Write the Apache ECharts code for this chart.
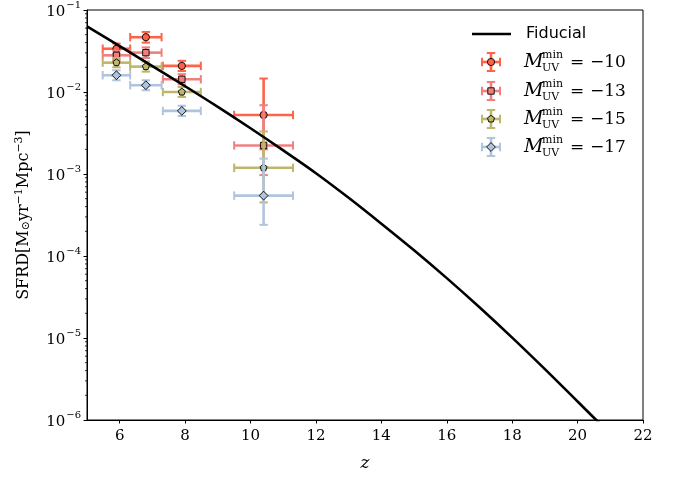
<!DOCTYPE html>
<html>
<head>
<meta charset="UTF-8">
<title>SFRD vs z</title>
<script src="https://cdn.jsdelivr.net/npm/echarts@6/dist/echarts.min.js"></script>
</head>
<body style="margin:0;background:#fff">
<div id="main" style="width:674px;height:477px;"></div>
<script>
// axis ticks
var zTicks = [6, 8, 10, 12, 14, 16, 18, 20, 22];
var yTicks = [1e-6, 1e-5, 1e-4, 1e-3, 1e-2, 1e-1];

// fiducial model curve
var fidZ = [5, 6, 7, 8, 9, 10, 11, 12, 13, 14, 15, 16, 17, 18, 19, 20, 21];
var fidSfrd = [0.0631, 0.0363, 0.0207, 0.01175, 0.00658, 0.00361, 0.00194, 0.001023, 5.13e-4, 2.48e-4,
               1.175e-4, 5.37e-5, 2.37e-5, 1.01e-5, 4.17e-6, 1.68e-6, 6.76e-7];

// observed points (same redshift bins for every Muv cut)
var obsZ = [5.9, 6.8, 7.9, 10.4];
var obsZErr = [0.42, 0.48, 0.58, 0.9];

var sfrdM10 = [0.0337, 0.0466, 0.0208, 0.00525];
var lowM10 = [0.029, 0.040, 0.018, 0.002];
var highM10 = [0.039, 0.054, 0.024, 0.0146];

var sfrdM13 = [0.028, 0.0302, 0.0143, 0.00223];
var lowM13 = [0.0245, 0.026, 0.0124, 0.00097];
var highM13 = [0.032, 0.035, 0.0165, 0.0069];

var sfrdM15 = [0.0228, 0.0204, 0.0100, 0.00119];
var lowM15 = [0.020, 0.0177, 0.0087, 0.00045];
var highM15 = [0.026, 0.0235, 0.0115, 0.0033];

var sfrdM17 = [0.016, 0.0121, 0.00588, 0.000545];
var lowM17 = [0.0139, 0.0105, 0.0051, 0.00024];
var highM17 = [0.0184, 0.0139, 0.0068, 0.00154];

var cutLabels = ['\u221210', '\u221213', '\u221215', '\u221217'];
var colors = ['#ff6347', '#f08080', '#bdb76b', '#b0c4de'];
var shapes = ['circle', 'square', 'pentagon', 'diamond'];

var SERIF = '"DejaVu Serif", "Liberation Serif", serif';
var SANS = '"DejaVu Sans", "Noto Sans", sans-serif';

function rows(v, lo, hi) {
    return obsZ.map(function (z, i) { return [z, v[i], obsZErr[i], lo[i], hi[i]]; });
}

function markerShape(shape, cx, cy, color) {
    var st = {fill: color, stroke: '#000', lineWidth: 0.9};
    if (shape === 'circle') return {type: 'circle', shape: {cx: cx, cy: cy, r: 3.6}, style: st};
    if (shape === 'square') return {type: 'rect', shape: {x: cx - 3.2, y: cy - 3.2, width: 6.4, height: 6.4}, style: st};
    if (shape === 'diamond') return {type: 'polygon', shape: {points: [[cx, cy - 4.4], [cx + 4.4, cy], [cx, cy + 4.4], [cx - 4.4, cy]]}, style: st};
    var pts = [];
    for (var k = 0; k < 5; k++) {
        var a = -Math.PI / 2 + k * 2 * Math.PI / 5;
        pts.push([cx + 3.7 * Math.cos(a), cy + 3.7 * Math.sin(a)]);
    }
    return {type: 'polygon', shape: {points: pts}, style: st};
}

function seg(x1, y1, x2, y2, color, w) {
    return {type: 'line', shape: {x1: x1, y1: y1, x2: x2, y2: y2}, style: {stroke: color, lineWidth: w}};
}

function errorBar(cx, cy, l, r, t, b, color, shape) {
    var cap = 4.2, w = 2.6;
    return [
        seg(l, cy, r, cy, color, w),
        seg(cx, t, cx, b, color, w),
        seg(l, cy - cap, l, cy + cap, color, 2),
        seg(r, cy - cap, r, cy + cap, color, 2),
        seg(cx - cap, t, cx + cap, t, color, 2),
        seg(cx - cap, b, cx + cap, b, color, 2),
        markerShape(shape, cx, cy, color)
    ];
}

function errSeries(name, data, idx) {
    return {
        name: name,
        type: 'custom',
        z: 3 + idx,
        data: data,
        renderItem: function (params, api) {
            var x = api.value(0), y = api.value(1), xe = api.value(2);
            var c = api.coord([x, y]);
            var l = api.coord([x - xe, y])[0], r = api.coord([x + xe, y])[0];
            var t = api.coord([x, api.value(4)])[1], b = api.coord([x, api.value(3)])[1];
            return {type: 'group', children: errorBar(c[0], c[1], l, r, t, b, colors[idx], shapes[idx])};
        }
    };
}

// minor ticks of the log axis (2..9 per decade)
var minorVals = [];
for (var d = -6; d < -1; d++) {
    for (var m = 2; m <= 9; m++) minorVals.push([5, m * Math.pow(10, d)]);
}

// legend drawn as graphics
var legendX = 491, textX = 524;
var legendY = [62, 91, 119, 147];
var graphics = [
    seg(472, 34, 511, 34, '#000', 2.6),
    {type: 'text', x: 526, y: 34, style: {text: 'Fiducial', font: '16px ' + SANS, fill: '#000', verticalAlign: 'middle'}}
];
legendY.forEach(function (y, i) {
    graphics = graphics.concat(errorBar(legendX, y, legendX - 9, legendX + 9, y - 9, y + 9, colors[i], shapes[i]));
    graphics.push({type: 'text', x: textX, y: y, style: {text: 'M', font: 'italic 19px ' + SERIF, fill: '#000', verticalAlign: 'middle'}});
    graphics.push({type: 'text', x: 542, y: y - 7, style: {text: 'min', font: '11px ' + SERIF, fill: '#000', verticalAlign: 'middle'}});
    graphics.push({type: 'text', x: 542, y: y + 6, style: {text: 'UV', font: '11px ' + SERIF, fill: '#000', verticalAlign: 'middle'}});
    graphics.push({type: 'text', x: 570, y: y + 1, style: {text: '=', font: '17px ' + SERIF, fill: '#000', verticalAlign: 'middle'}});
    graphics.push({type: 'text', x: 590, y: y + 1, style: {text: cutLabels[i], font: '17px ' + SERIF, fill: '#000', verticalAlign: 'middle'}});
});

var chart = echarts.init(document.getElementById('main'), null, {renderer: 'canvas'});
chart.setOption({
    animation: false,
    backgroundColor: '#fff',
    grid: {left: 87, right: 31, top: 10, bottom: 54, show: true, borderColor: '#000', borderWidth: 1},
    xAxis: {
        type: 'value', min: 5, max: 22,
        name: 'z', nameLocation: 'middle', nameGap: 35,
        nameTextStyle: {fontFamily: SERIF, fontStyle: 'italic', fontSize: 17, color: '#000'},
        axisLine: {lineStyle: {color: '#000', width: 1}},
        axisTick: {length: 3.5, lineStyle: {color: '#000', width: 1}, customValues: zTicks},
        axisLabel: {fontFamily: SERIF, fontSize: 15, color: '#000', margin: 9, customValues: zTicks},
        splitLine: {show: false}
    },
    yAxis: {
        type: 'log', logBase: 10, min: 1e-6, max: 1e-1,
        name: 'SFRD[M{sub|\u2299}yr{sup|\u22121}Mpc{sup|\u22123}]',
        nameLocation: 'middle', nameGap: 54, nameRotate: 90,
        nameTextStyle: {
            fontFamily: SERIF, fontSize: 16, color: '#000',
            rich: {
                sub: {fontFamily: SERIF, fontSize: 11, color: '#000', padding: [6, 0, 0, 0]},
                sup: {fontFamily: SERIF, fontSize: 11, color: '#000', padding: [0, 0, 8, 0]}
            }
        },
        axisLine: {show: true, lineStyle: {color: '#000', width: 1}},
        axisTick: {length: 3.5, lineStyle: {color: '#000', width: 1}},
        axisLabel: {
            color: '#000', margin: 6,
            formatter: function (v) {
                var e = Math.round(Math.log(v) / Math.LN10);
                return '{b|10}{s|\u2212' + (-e) + '}';
            },
            rich: {
                b: {fontFamily: SERIF, fontSize: 15, color: '#000', lineHeight: 20, verticalAlign: 'bottom'},
                s: {fontFamily: SERIF, fontSize: 10, color: '#000', lineHeight: 20, verticalAlign: 'top', padding: [0, 0, 0, 1]}
            }
        },
        splitLine: {show: false}
    },
    graphic: graphics,
    series: [
        {
            type: 'custom', silent: true, z: 1, data: minorVals,
            renderItem: function (params, api) {
                var p = api.coord([api.value(0), api.value(1)]);
                return seg(p[0] - 2, p[1], p[0], p[1], '#000', 0.8);
            }
        },
        errSeries('M10', rows(sfrdM10, lowM10, highM10), 0),
        errSeries('M13', rows(sfrdM13, lowM13, highM13), 1),
        errSeries('M15', rows(sfrdM15, lowM15, highM15), 2),
        errSeries('M17', rows(sfrdM17, lowM17, highM17), 3),
        {
            name: 'Fiducial', type: 'line', z: 10, symbol: 'none', clip: true, smooth: 0.35,
            data: fidZ.map(function (z, i) { return [z, fidSfrd[i]]; }),
            lineStyle: {color: '#000', width: 2.6}
        }
    ]
});
</script>
</body>
</html>
